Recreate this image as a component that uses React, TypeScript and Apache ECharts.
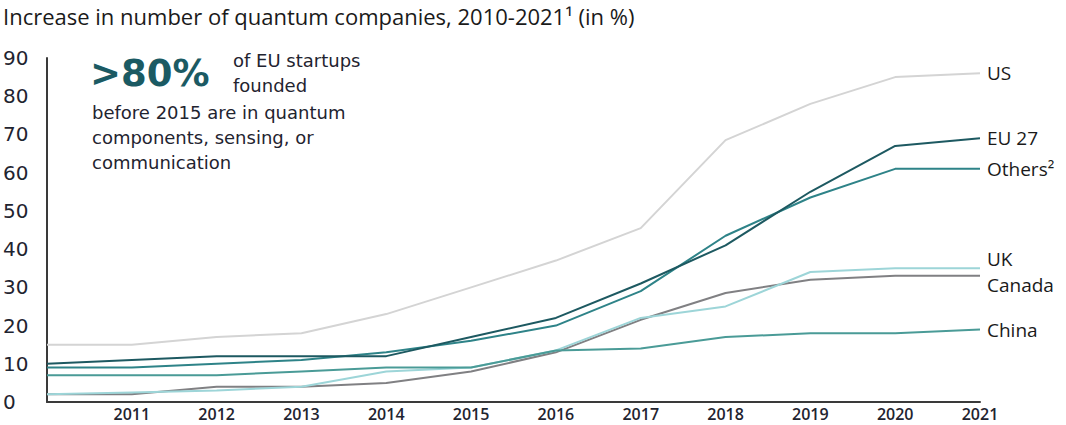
import React, { useEffect, useRef } from "react";
import * as echarts from "echarts";

const years = ["2010", "2011", "2012", "2013", "2014", "2015", "2016", "2017", "2018", "2019", "2020", "2021"];
const us = [15, 15, 17, 18, 23, 30, 37, 45.5, 68.5, 78, 85, 86];
const eu27 = [10, 11, 12, 12, 12, 17, 22, 31, 41, 55, 67, 69];
const others = [9, 9, 10, 11, 13, 16, 20, 29, 43.5, 53.5, 61, 61];
const uk = [2, 2.5, 3, 4, 8, 9, 13.5, 22, 25, 34, 35, 35];
const canada = [2, 2, 4, 4, 5, 8, 13, 21.5, 28.5, 32, 33, 33];
const china = [7, 7, 7, 8, 9, 9, 13.5, 14, 17, 18, 18, 19];
const yTicks = [0, 10, 20, 30, 40, 50, 60, 70, 80, 90];

const seriesDefs = [
  { name: "US", label: "US", data: us, color: "#d4d4d4", offset: [0, 0] },
  { name: "Canada", label: "Canada", data: canada, color: "#808083", offset: [0, 9] },
  { name: "UK", label: "UK", data: uk, color: "#9dd5d8", offset: [0, -9] },
  { name: "China", label: "China", data: china, color: "#4a9b97", offset: [0, 1] },
  { name: "Others", label: "Others²", data: others, color: "#2e8388", offset: [0, 0] },
  { name: "EU 27", label: "EU 27", data: eu27, color: "#1d5961", offset: [0, 0] },
];

export default function App() {
  const ref = useRef<HTMLDivElement>(null);
  useEffect(() => {
    if (!ref.current) return;
    const chart = echarts.init(ref.current, undefined, { renderer: "svg" });
    const textColor = "#1f2430";
    chart.setOption({
      animation: false,
      grid: { left: 47, right: 86, top: 58, bottom: 23, containLabel: false },
      xAxis: {
        type: "category",
        data: years,
        boundaryGap: false,
        axisLine: { show: true, lineStyle: { color: "#3a3a3a", width: 2 } },
        axisTick: { show: false },
        splitLine: { show: false },
        axisLabel: {
          interval: 0,
          formatter: (v: string, i: number) => (i === 0 ? "" : v),
          color: textColor,
          fontFamily: "Open Sans",
          fontWeight: 600,
          fontSize: 16,
          lineHeight: 14,
          margin: 5,
        },
      },
      yAxis: {
        type: "value",
        min: 0,
        max: 90,
        interval: 10,
        axisLine: { show: true, lineStyle: { color: "#3a3a3a", width: 2 } },
        axisTick: { show: false },
        splitLine: { show: false },
        axisLabel: {
          color: textColor,
          fontFamily: "DejaVu Sans",
          fontSize: 20,
          align: "left",
          margin: 44,
          formatter: (v: number) => (yTicks.includes(v) ? String(v) : ""),
        },
      },
      series: seriesDefs.map((s) => ({
        type: "line",
        name: s.name,
        data: s.data,
        symbol: "none",
        lineStyle: { color: s.color, width: 2 },
        itemStyle: { color: s.color },
        endLabel: {
          show: true,
          formatter: () => s.label,
          color: "#1a1a1a",
          fontFamily: "Open Sans",
          fontSize: 19,
          distance: 7,
          offset: s.offset,
        },
      })),
      graphic: [
        {
          type: "text",
          left: 3,
          top: 5,
          style: {
            text: "Increase in number of quantum companies, 2010-2021¹ (in %)",
            fontFamily: "Open Sans",
            fontSize: 22,
            fill: "#1a1a1a",
          },
        },
        {
          type: "text",
          left: 90,
          top: 55,
          style: {
            text: ">80%",
            fontFamily: "DejaVu Sans",
            fontWeight: "bold",
            fontSize: 37,
            fill: "#1b5a63",
          },
        },
        {
          type: "text",
          left: 233,
          top: 48,
          style: {
            text: "of EU startups\nfounded",
            fontFamily: "DejaVu Sans",
            fontSize: 18,
            lineHeight: 25,
            fill: "#1f2430",
          },
        },
        {
          type: "text",
          left: 92,
          top: 100,
          style: {
            text: "before 2015 are in quantum\ncomponents, sensing, or\ncommunication",
            fontFamily: "DejaVu Sans",
            fontSize: 18,
            lineHeight: 25,
            fill: "#1f2430",
          },
        },
      ],
    });
    return () => chart.dispose();
  }, []);
  return <div ref={ref} style={{ width: 1066, height: 425, position: "absolute", left: 0, top: 0 }} />;
}
